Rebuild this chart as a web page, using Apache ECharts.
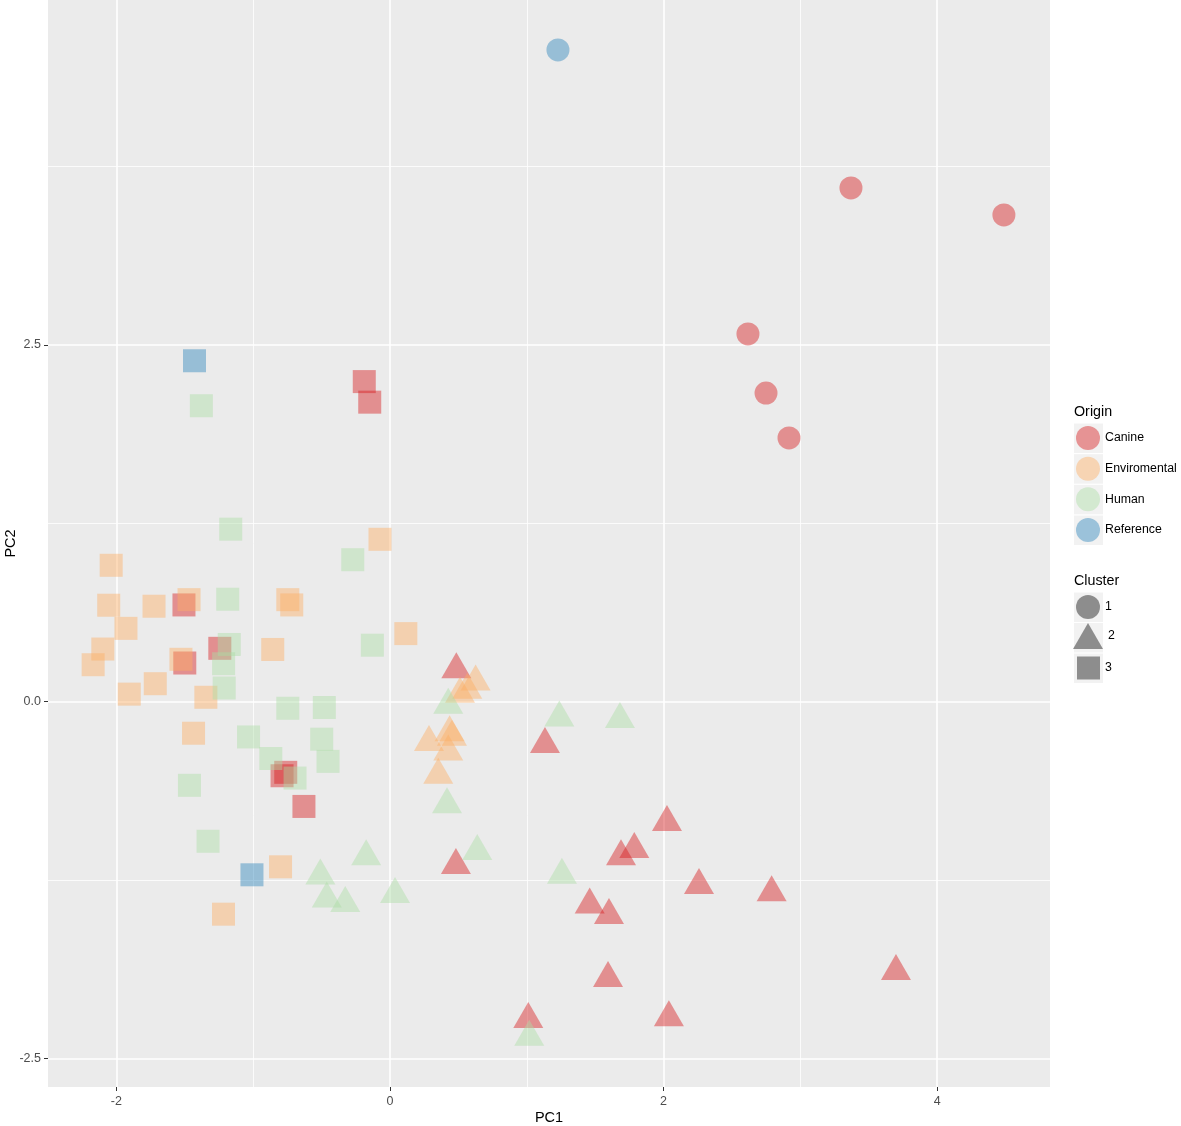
<!DOCTYPE html>
<html>
<head>
<meta charset="utf-8">
<title>PCA by origin and cluster</title>
<script src="https://cdn.jsdelivr.net/npm/echarts@6.0.0/dist/echarts.min.js"></script>
<style>
    html, body { margin: 0; padding: 0; background: #ffffff; }
    #chart { width: 1181px; height: 1126px; }
</style>
</head>
<body>
<div id="chart"></div>
<script>
// PCA scores per origin: [PC1, PC2, cluster]
var canine = [
    [3.370, 3.600, 1], [4.488, 3.411, 1], [2.617, 2.577, 1], [2.749, 2.163, 1], [2.917, 1.848, 1],
    [0.485, 0.226, 2], [1.133, -0.299, 2], [0.482, -1.146, 2], [2.025, -0.846, 2], [1.786, -1.035, 2],
    [1.689, -1.085, 2], [2.259, -1.287, 2], [2.790, -1.338, 2], [1.460, -1.423, 2], [1.601, -1.497, 2],
    [3.699, -1.890, 2], [1.594, -1.939, 2], [2.039, -2.214, 2], [1.011, -2.225, 2],
    [-0.188, 2.243, 3], [-0.148, 2.099, 3], [-1.506, 0.678, 3], [-1.244, 0.374, 3], [-1.500, 0.271, 3],
    [-0.789, -0.519, 3], [-0.762, -0.495, 3], [-0.629, -0.734, 3]
];
var enviromental = [
    [0.626, 0.139, 2], [0.565, 0.081, 2], [0.512, 0.054, 2], [0.436, -0.216, 2], [0.453, -0.247, 2],
    [0.285, -0.285, 2], [0.426, -0.352, 2], [0.353, -0.514, 2],
    [-0.073, 1.138, 3], [-2.038, 0.956, 3], [-2.056, 0.676, 3], [-1.725, 0.669, 3], [-1.469, 0.715, 3],
    [-0.747, 0.715, 3], [-0.718, 0.678, 3], [-1.930, 0.514, 3], [0.116, 0.477, 3], [-2.099, 0.369, 3],
    [-2.170, 0.259, 3], [-0.857, 0.366, 3], [-1.528, 0.297, 3], [-1.716, 0.126, 3], [-1.906, 0.053, 3],
    [-1.346, 0.031, 3], [-1.436, -0.221, 3], [-0.800, -1.157, 3], [-1.217, -1.489, 3]
];
var human = [
    [0.426, -0.023, 2], [1.238, -0.113, 2], [1.681, -0.124, 2], [0.417, -0.720, 2], [-0.174, -1.085, 2],
    [-0.509, -1.220, 2], [-0.462, -1.381, 2], [-0.327, -1.413, 2], [0.037, -1.350, 2], [0.638, -1.049, 2],
    [1.257, -1.214, 2], [1.018, -2.350, 2],
    [-1.379, 2.074, 3], [-1.164, 1.209, 3], [-0.272, 0.995, 3], [-1.186, 0.718, 3], [-0.129, 0.396, 3],
    [-1.175, 0.401, 3], [-1.216, 0.266, 3], [-1.212, 0.096, 3], [-0.747, -0.046, 3], [-0.480, -0.041, 3],
    [-1.034, -0.247, 3], [-0.499, -0.263, 3], [-0.871, -0.398, 3], [-0.453, -0.418, 3], [-0.694, -0.535, 3],
    [-1.466, -0.586, 3], [-1.330, -0.978, 3]
];
var reference = [
    [1.228, 4.567, 1], [-1.429, 2.389, 3], [-1.009, -1.213, 3]
];

var origins = ['Canine', 'Enviromental', 'Human', 'Reference'];
var originData = [canine, enviromental, human, reference];
var clusters = ['1', '2', '3'];

// axis ticks and panel grid lines
var xTicks = [-2, 0, 2, 4];
var xMinor = [-1, 1, 3];
var yTicks = [-2.5, 0, 2.5];
var yMinor = [-1.25, 1.25, 3.75];

// styles
var originColors = ['rgba(215,25,28,0.55)', 'rgba(253,174,97,0.55)', 'rgba(171,221,164,0.55)', 'rgba(43,131,186,0.55)'];
var clusterColor = 'rgba(0,0,0,0.52)';
var shapes = ['circle', 'triangle', 'rect'];
var shapeSizes = [23, [30, 26], 23];
var shapeOffsets = [[0, 0], [0, -4.3], [0, 0]];
var fontName = "'Liberation Sans', Arial, sans-serif";

function toPoint(p) {
    var c = p[2] - 1;
    return {
        value: [p[0], p[1]],
        symbol: shapes[c],
        symbolSize: shapeSizes[c],
        symbolOffset: shapeOffsets[c]
    };
}

function gridLines() {
    var lines = [];
    for (var i = 0; i < xTicks.length; i++)
        lines.push({ xAxis: xTicks[i], lineStyle: { color: '#ffffff', width: 1.6, type: 'solid' } });
    for (var i = 0; i < xMinor.length; i++)
        lines.push({ xAxis: xMinor[i], lineStyle: { color: '#ffffff', width: 0.8, type: 'solid' } });
    for (var i = 0; i < yTicks.length; i++)
        lines.push({ yAxis: yTicks[i], lineStyle: { color: '#ffffff', width: 1.6, type: 'solid' } });
    for (var i = 0; i < yMinor.length; i++)
        lines.push({ yAxis: yMinor[i], lineStyle: { color: '#ffffff', width: 0.8, type: 'solid' } });
    return lines;
}

var series = [];
// white panel grid drawn under the points
series.push({
    type: 'scatter',
    name: 'panel',
    data: [],
    silent: true,
    markLine: {
        silent: true,
        z: 1,
        animation: false,
        symbol: ['none', 'none'],
        label: { show: false },
        emphasis: { disabled: true },
        data: gridLines()
    }
});
for (var i = 0; i < origins.length; i++) {
    series.push({
        type: 'scatter',
        name: origins[i],
        z: 3,
        itemStyle: { color: originColors[i] },
        emphasis: { disabled: true },
        data: originData[i].map(toPoint)
    });
}
// empty series only used for the Cluster legend keys
for (var i = 0; i < clusters.length; i++) {
    series.push({
        type: 'scatter',
        name: clusters[i],
        itemStyle: { color: clusterColor },
        data: []
    });
}

var legendText = { fontFamily: fontName, fontSize: 12.3, color: '#000000' };

// titles and grey key boxes behind the legend symbols
var graphics = [
    { type: 'text', left: 1074, top: 405, style: { text: 'Origin', font: '14.3px ' + fontName, fill: '#000000' } },
    { type: 'text', left: 1074, top: 574, style: { text: 'Cluster', font: '14.3px ' + fontName, fill: '#000000' } }
];
for (var i = 0; i < 4; i++) {
    graphics.push({ type: 'rect', left: 1074, top: 423.5 + i * 30.67, z: 1,
        shape: { width: 29, height: 29.5 }, style: { fill: '#F2F2F2' } });
}
for (var i = 0; i < 3; i++) {
    graphics.push({ type: 'rect', left: 1074, top: 592.5 + i * 30.5, z: 1,
        shape: { width: 29, height: 29.5 }, style: { fill: '#F2F2F2' } });
}

var myChart = echarts.init(document.getElementById('chart'));
var option = {
    backgroundColor: '#ffffff',
    animation: false,
    textStyle: { fontFamily: fontName },
    grid: {
        left: 48, right: 131, top: 0, bottom: 39,
        show: true, backgroundColor: '#EBEBEB', borderWidth: 0,
        containLabel: false, outerBoundsMode: 'none'
    },
    xAxis: {
        type: 'value',
        min: -2.5, max: 4.825,
        name: 'PC1', nameLocation: 'middle', nameGap: 23, nameMoveOverlap: false,
        nameTextStyle: { fontFamily: fontName, fontSize: 14.5, color: '#000000' },
        axisLine: { show: false, onZero: false },
        splitLine: { show: false },
        axisTick: { show: true, customValues: xTicks, length: 4, lineStyle: { color: '#333333', width: 1 } },
        axisLabel: { customValues: xTicks, color: '#4D4D4D', fontSize: 12.5, margin: 8, fontFamily: fontName }
    },
    yAxis: {
        type: 'value',
        min: -2.70, max: 4.917,
        name: 'PC2', nameLocation: 'middle', nameGap: 30, nameRotate: 90, nameMoveOverlap: false,
        nameTextStyle: { fontFamily: fontName, fontSize: 14.5, color: '#000000' },
        axisLine: { show: false, onZero: false },
        splitLine: { show: false },
        axisTick: { show: true, customValues: yTicks, length: 4, lineStyle: { color: '#333333', width: 1 } },
        axisLabel: {
            customValues: yTicks, color: '#4D4D4D', fontSize: 12.5, margin: 7, fontFamily: fontName,
            formatter: function (v) { return v.toFixed(1); }
        }
    },
    legend: [
        {
            data: origins.map(function (n) { return { name: n, icon: 'circle' }; }),
            orient: 'vertical', left: 1076, top: 426, padding: 0,
            itemWidth: 24, itemHeight: 24, itemGap: 6.67,
            selectedMode: false, textStyle: legendText
        },
        {
            data: [{ name: '1', icon: 'circle' }],
            left: 1076, top: 595, padding: 0, itemWidth: 24, itemHeight: 24,
            selectedMode: false, textStyle: legendText
        },
        {
            data: [{ name: '2', icon: 'triangle' }],
            left: 1073, top: 623, padding: 0, itemWidth: 30, itemHeight: 26,
            selectedMode: false, textStyle: legendText
        },
        {
            data: [{ name: '3', icon: 'rect' }],
            left: 1077, top: 656.5, padding: 0, itemWidth: 23, itemHeight: 23,
            selectedMode: false, textStyle: legendText
        }
    ],
    graphic: graphics,
    series: series
};
myChart.setOption(option);
</script>
</body>
</html>
